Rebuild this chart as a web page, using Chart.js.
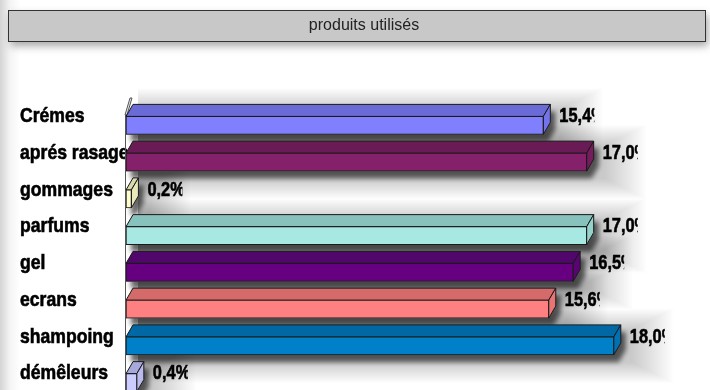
<!DOCTYPE html>
<html>
<head>
<meta charset="utf-8">
<script src="https://cdn.jsdelivr.net/npm/chart.js@4.4.0/dist/chart.umd.min.js"></script>
<style>
  html, body { margin: 0; padding: 0; overflow: hidden; }
  body { background: linear-gradient(to right, #d4d4d4 0px, #f4f4f4 10px, #fff 20px); }
  #wrap { width: 710px; height: 402px; position: relative; }
</style>
</head>
<body>
<div id="wrap"><canvas id="myChart"></canvas></div>
<script>
const titleText = "produits utilisés";
const categories = ["Crémes", "aprés rasage", "gommages", "parfums", "gel", "ecrans", "shampoing", "démêleurs"];
const values = [15.4, 17.0, 0.2, 17.0, 16.5, 15.6, 18.0, 0.4];
const frontColors = ["#8080ff", "#85206a", "#ffffcc", "#a8e8e2", "#660080", "#ff8080", "#0080c8", "#ccccff"];
const topColors = ["#6b6bd8", "#6a1a54", "#d8d8aa", "#88c2bd", "#50066a", "#d46a6a", "#0068a4", "#a8a8dc"];
const sideColors = ["#7474ea", "#741c5e", "#e8e8bc", "#96d2cc", "#5a0474", "#e87474", "#0072b4", "#babaee"];

const dx = 7, dy = 12;

// narrow bold text (condensed look of the original)
function drawNarrow(ctx, text, x, y, sx, clipW) {
  ctx.save();
  if (clipW) {
    ctx.beginPath();
    ctx.rect(x - 1, y - 20, clipW, 40);
    ctx.clip();
  }
  ctx.translate(x, y);
  ctx.scale(sx, 1.02);
  ctx.font = 'bold 20px "Liberation Sans", Arial, sans-serif';
  ctx.fillStyle = "#000";
  ctx.strokeStyle = "#000";
  ctx.lineWidth = 0.6;
  ctx.textAlign = "left";
  ctx.textBaseline = "middle";
  ctx.fillText(text, 0, 0);
  ctx.strokeText(text, 0, 0);
  ctx.restore();
}

function boxPath(ctx, x, base, t, b) {
  ctx.beginPath();
  ctx.moveTo(base, b);
  ctx.lineTo(base, t);
  ctx.lineTo(base + dx, t - dy);
  ctx.lineTo(x + dx, t - dy);
  ctx.lineTo(x + dx, b - dy);
  ctx.lineTo(x, b);
  ctx.closePath();
}

// title box
const titleBox = {
  id: "titleBox",
  beforeDraw(chart) {
    const ctx = chart.ctx;
    ctx.save();
    ctx.shadowColor = "rgba(0,0,0,0.35)";
    ctx.shadowBlur = 8;
    ctx.shadowOffsetX = 3;
    ctx.shadowOffsetY = 5;
    ctx.fillStyle = "#c8c8c8";
    ctx.fillRect(8, 10, 697, 31);
    ctx.restore();
    ctx.save();
    ctx.strokeStyle = "#333";
    ctx.lineWidth = 1;
    ctx.strokeRect(8.5, 10.5, 697, 31);
    ctx.font = '16px "Liberation Sans", Arial, sans-serif';
    ctx.fillStyle = "#222";
    ctx.textAlign = "center";
    ctx.textBaseline = "middle";
    ctx.fillText(titleText, 364, 26);
    ctx.restore();
  },
};

// 3D bars: shadows, top and side faces, labels
const threeD = {
  id: "threeD",
  beforeDatasetsDraw(chart) {
    const { ctx, chartArea: { top, bottom, left }, scales: { y } } = chart;
    const meta = chart.getDatasetMeta(0);

    // category labels (bars are drawn over them)
    categories.forEach((c, i) => {
      drawNarrow(ctx, c, 20, y.getPixelForValue(i) - 9, 0.88);
    });

    // soft wide shadow: stacked translucent rects
    ctx.save();
    ctx.fillStyle = "rgba(0,0,0,0.011)";
    meta.data.forEach((bar) => {
      const { x, y: cy, base, height } = bar.getProps(["x", "y", "base", "height"], true);
      const t = cy - height / 2 - dy + 4, b = cy + height / 2 + 8;
      for (let k = 0; k < 26; k++) {
        const e = k * 1.6;
        ctx.fillRect(base + 12, t - e * 0.5, x + dx - base + e, b - t + e);
      }
    });
    ctx.restore();

    // left wall
    ctx.save();
    ctx.strokeStyle = "#555";
    ctx.fillStyle = "#e4e4e4";
    ctx.lineWidth = 1;
    ctx.beginPath();
    ctx.moveTo(left - 1, top + 8);
    ctx.lineTo(left + 4, top - 9);
    ctx.lineTo(left + 6, top - 9);
    ctx.lineTo(left + 1, top + 8);
    ctx.closePath();
    ctx.fill();
    ctx.stroke();
    ctx.beginPath();
    ctx.moveTo(left - 0.5, top + 8);
    ctx.lineTo(left - 0.5, bottom);
    ctx.stroke();
    ctx.restore();

    meta.data.forEach((bar, i) => {
      const { x, y: cy, base, height } = bar.getProps(["x", "y", "base", "height"], true);
      const t = cy - height / 2, b = cy + height / 2;

      // close shadow
      ctx.save();
      ctx.shadowColor = "rgba(0,0,0,0.6)";
      ctx.shadowBlur = 5;
      ctx.shadowOffsetX = 5;
      ctx.shadowOffsetY = 7;
      ctx.fillStyle = "#777";
      boxPath(ctx, x, base, t, b);
      ctx.fill();
      ctx.restore();

      ctx.save();
      ctx.strokeStyle = "#1a1a1a";
      ctx.lineWidth = 1;
      // top face
      ctx.fillStyle = topColors[i];
      ctx.beginPath();
      ctx.moveTo(base, t);
      ctx.lineTo(base + dx, t - dy);
      ctx.lineTo(x + dx, t - dy);
      ctx.lineTo(x, t);
      ctx.closePath();
      ctx.fill();
      ctx.stroke();
      // side face
      ctx.fillStyle = sideColors[i];
      ctx.beginPath();
      ctx.moveTo(x, t);
      ctx.lineTo(x + dx, t - dy);
      ctx.lineTo(x + dx, b - dy);
      ctx.lineTo(x, b);
      ctx.closePath();
      ctx.fill();
      ctx.stroke();
      ctx.restore();
    });
  },
  afterDatasetsDraw(chart) {
    const ctx = chart.ctx;
    const meta = chart.getDatasetMeta(0);
    meta.data.forEach((bar, i) => {
      const { x, y: cy } = bar.getProps(["x", "y"], true);
      const txt = values[i].toFixed(1).replace(".", ",") + "%";
      drawNarrow(ctx, txt, x + dx + 9, cy - 9, 0.82, 36);
    });
  },
};

const data = {
  labels: categories,
  datasets: [
    {
      data: values,
      backgroundColor: frontColors,
      borderColor: "#1a1a1a",
      borderWidth: 1,
      borderSkipped: false,
      barThickness: 18,
    },
  ],
};

const config = {
  type: "bar",
  data,
  options: {
    responsive: true,
    maintainAspectRatio: false,
    animation: false,
    indexAxis: "y",
    layout: { padding: { top: 107, left: 20, right: 42, bottom: 1 } },
    plugins: {
      legend: { display: false },
      tooltip: { enabled: false },
    },
    scales: {
      x: { display: false, min: 0, max: 20 },
      y: {
        grid: { display: false },
        border: { display: false },
        ticks: { display: false },
        afterFit(scale) {
          scale.width = 106;
        },
      },
    },
  },
  plugins: [titleBox, threeD],
};

new Chart(document.getElementById("myChart"), config);
</script>
</body>
</html>
